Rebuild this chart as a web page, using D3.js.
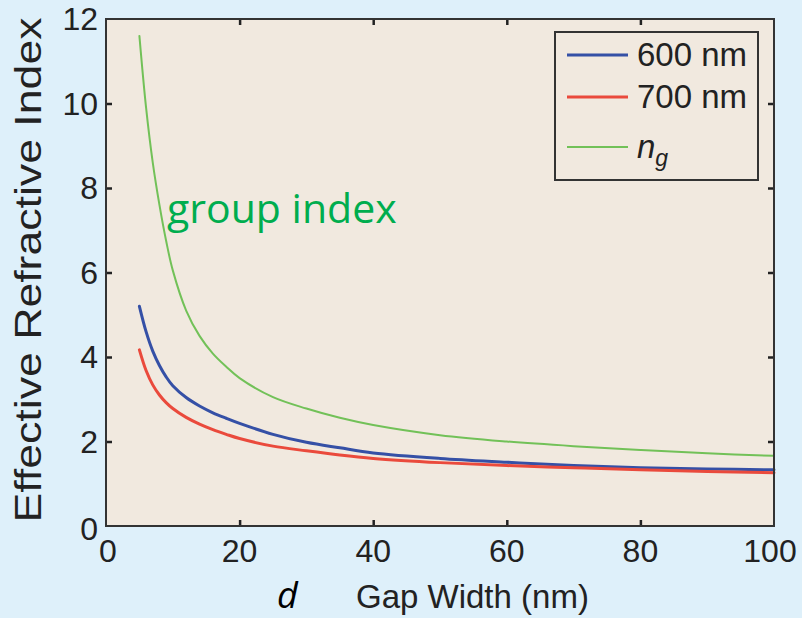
<!DOCTYPE html>
<html>
<head>
<meta charset="utf-8">
<script src="https://cdn.jsdelivr.net/npm/d3@7/dist/d3.min.js"></script>
<style>
  html, body { margin: 0; padding: 0; background: #def0fa; }
  svg { display: block; }
  .tick-label { font-family: 'Liberation Sans', Arial, sans-serif; font-size: 32px; fill: #222; }
</style>
</head>
<body>
<div id="chart"></div>
<script>
const margin = { top: 19, right: 28, bottom: 92, left: 106 }
const width = 802 - margin.left - margin.right
const height = 618 - margin.top - margin.bottom

// gap width d (nm)
const gapWidth = [5, 6, 7, 8, 9, 10, 12, 14, 16, 18, 20, 25, 30, 35, 40, 50, 60, 70, 80, 90, 100]
// effective index at 600 nm
const n600 = [5.2, 4.6, 4.14, 3.8, 3.53, 3.32, 3.04, 2.84, 2.68, 2.55, 2.43, 2.17, 1.98, 1.85, 1.73, 1.6, 1.51, 1.43, 1.38, 1.35, 1.33]
// effective index at 700 nm
const n700 = [4.17, 3.68, 3.34, 3.1, 2.92, 2.78, 2.57, 2.41, 2.28, 2.17, 2.07, 1.89, 1.78, 1.68, 1.6, 1.5, 1.43, 1.38, 1.33, 1.29, 1.26]
// group index
const ng = [11.6, 9.9, 8.6, 7.6, 6.75, 6.05, 5.1, 4.5, 4.08, 3.77, 3.5, 3.05, 2.78, 2.56, 2.39, 2.15, 2.0, 1.89, 1.8, 1.72, 1.66]

const xTicks = [0, 20, 40, 60, 80, 100]
const yTicks = [0, 2, 4, 6, 8, 10, 12]

const series = [
  { name: '600 nm', values: n600, color: '#3550a6', width: 3 },
  { name: '700 nm', values: n700, color: '#ea4a3c', width: 3 },
  { name: 'ng', values: ng, color: '#72c158', width: 2 }
]

const svg = d3
  .select('#chart')
  .append('svg')
  .attr('width', width + margin.left + margin.right)
  .attr('height', height + margin.top + margin.bottom)
  .append('g')
  .attr('transform', 'translate(' + margin.left + ',' + margin.top + ')')

const xPositionScale = d3.scaleLinear().domain([0, 100]).range([0, width])
const yPositionScale = d3.scaleLinear().domain([0, 12]).range([height, 0])

// plot background
svg.append('rect')
  .attr('width', width)
  .attr('height', height)
  .attr('fill', '#f1e9df')

const line = d3.line()
  .x((d, i) => xPositionScale(gapWidth[i]))
  .y(d => yPositionScale(d))
  .curve(d3.curveCatmullRom.alpha(0.5))

svg.selectAll('.curve')
  .data(series)
  .enter()
  .append('path')
  .attr('class', 'curve')
  .attr('d', d => line(d.values))
  .attr('fill', 'none')
  .attr('stroke', d => d.color)
  .attr('stroke-width', d => d.width)
  .attr('stroke-linejoin', 'round')
  .attr('stroke-linecap', 'round')

// axes with inward ticks on all four sides
const tickLen = 6
const innerX = xTicks.filter(d => d > 0 && d < 100)
const innerY = yTicks.filter(d => d > 0 && d < 12)

svg.append('g')
  .attr('class', 'axis x-axis')
  .attr('transform', 'translate(0,' + height + ')')
  .call(d3.axisBottom(xPositionScale).tickValues(innerX).tickSize(-tickLen).tickFormat(''))
svg.append('g')
  .attr('class', 'axis x-axis-top')
  .call(d3.axisTop(xPositionScale).tickValues(innerX).tickSize(-tickLen).tickFormat(''))
svg.append('g')
  .attr('class', 'axis y-axis')
  .call(d3.axisLeft(yPositionScale).tickValues(innerY).tickSize(-tickLen).tickFormat(''))
svg.append('g')
  .attr('class', 'axis y-axis-right')
  .attr('transform', 'translate(' + width + ',0)')
  .call(d3.axisRight(yPositionScale).tickValues(innerY).tickSize(-tickLen).tickFormat(''))

svg.selectAll('.axis .domain').remove()
svg.selectAll('.axis line').attr('stroke', '#222').attr('stroke-width', 2.5)

svg.append('rect')
  .attr('width', width)
  .attr('height', height)
  .attr('fill', 'none')
  .attr('stroke', '#333')
  .attr('stroke-width', 2)

// tick labels
svg.selectAll('.x-label')
  .data(xTicks)
  .enter()
  .append('text')
  .attr('class', 'tick-label')
  .attr('x', d => xPositionScale(d) + (d === 0 ? 2 : d === 100 ? -4 : 0))
  .attr('y', height + 36)
  .attr('text-anchor', 'middle')
  .text(d => d)

svg.selectAll('.y-label')
  .data(yTicks)
  .enter()
  .append('text')
  .attr('class', 'tick-label')
  .attr('x', -8)
  .attr('y', d => yPositionScale(d) + (d === 0 ? 14 : 11))
  .attr('text-anchor', 'end')
  .text(d => d)

// axis titles
svg.append('text')
  .attr('transform', 'translate(' + (-65) + ',' + (270 - margin.top) + ') rotate(-90)')
  .attr('text-anchor', 'middle')
  .attr('font-family', 'Liberation Sans, Arial, sans-serif')
  .attr('font-size', 36)
  .attr('textLength', 505)
  .attr('lengthAdjust', 'spacingAndGlyphs')
  .attr('fill', '#222')
  .text('Effective Refractive Index')

svg.append('text')
  .attr('x', 356 - margin.left)
  .attr('y', 608 - margin.top)
  .attr('font-family', 'Liberation Sans, Arial, sans-serif')
  .attr('font-size', 33)
  .attr('fill', '#222')
  .text('Gap Width (nm)')

svg.append('text')
  .attr('x', 277 - margin.left)
  .attr('y', 608 - margin.top)
  .attr('font-family', 'Open Sans, sans-serif')
  .attr('font-style', 'italic')
  .attr('font-size', 36)
  .attr('fill', '#000')
  .text('d')

svg.append('text')
  .attr('x', 167 - margin.left)
  .attr('y', 223 - margin.top)
  .attr('font-family', 'Open Sans, sans-serif')
  .attr('font-size', 41)
  .attr('fill', '#00ad4e')
  .text('group index')

// legend
const legend = svg.append('g')
  .attr('transform', 'translate(' + (555 - margin.left) + ',' + (32 - margin.top) + ')')

legend.append('rect')
  .attr('width', 203)
  .attr('height', 148)
  .attr('fill', '#f1e9df')
  .attr('stroke', '#333')
  .attr('stroke-width', 2)

const rowY = [23, 65, 115]
const items = legend.selectAll('.legend-item')
  .data(series)
  .enter()
  .append('g')
  .attr('transform', (d, i) => 'translate(0,' + rowY[i] + ')')

items.append('line')
  .attr('x1', 12)
  .attr('x2', 73)
  .attr('stroke', d => d.color)
  .attr('stroke-width', d => d.width)

items.append('text')
  .attr('x', 82)
  .attr('y', 11)
  .attr('font-family', 'Liberation Sans, Arial, sans-serif')
  .attr('font-size', 33)
  .attr('fill', '#222')
  .each(function (d) {
    const t = d3.select(this)
    if (d.name === 'ng') {
      t.append('tspan').attr('font-style', 'italic').text('n')
      t.append('tspan').attr('font-style', 'italic').attr('font-size', 23).attr('dy', 8).text('g')
    } else {
      t.text(d.name)
    }
  })
</script>
</body>
</html>
